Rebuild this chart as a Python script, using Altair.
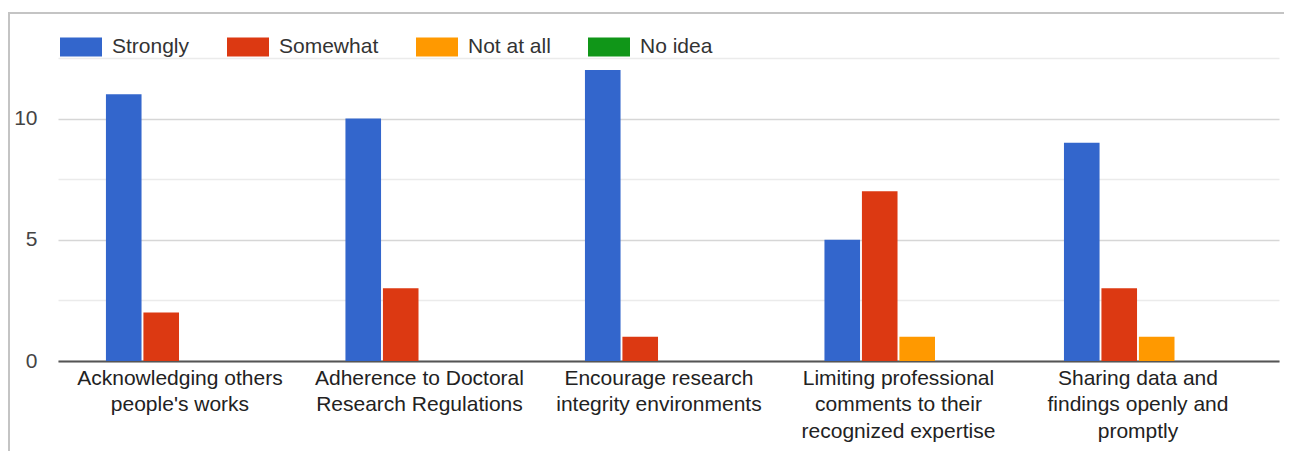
import altair as alt
import pandas as pd

categories = [
    ["Acknowledging others", "people's works"],
    ["Adherence to Doctoral", "Research Regulations"],
    ["Encourage research", "integrity environments"],
    ["Limiting professional", "comments to their", "recognized expertise"],
    ["Sharing data and", "findings openly and", "promptly"],
]
series = ["Strongly", "Somewhat", "Not at all", "No idea"]
colors = ["#3366cc", "#dc3912", "#ff9900", "#109618"]
strongly = [11, 10, 12, 5, 9]
somewhat = [2, 3, 1, 7, 3]
not_at_all = [0, 0, 0, 1, 1]
no_idea = [0, 0, 0, 0, 0]
y_ticks = [0, 2.5, 5, 7.5, 10, 12.5]

cat_names = ["\n".join(c) for c in categories]
rows = []
for i, name in enumerate(cat_names):
    for s, vals in zip(series, [strongly, somewhat, not_at_all, no_idea]):
        rows.append({"category": name, "series": s, "value": vals[i]})
df = pd.DataFrame(rows)

FONT = "Liberation Sans, Arial, sans-serif"

bars = alt.Chart(df).mark_bar().encode(
    x=alt.X(
        "category:N",
        sort=cat_names,
        title=None,
        scale=alt.Scale(paddingInner=0.382, paddingOuter=0.24, align=0.417),
        axis=alt.Axis(
            labelExpr="split(datum.label, '\\n')",
            labelAngle=0,
            labelFont=FONT,
            labelFontSize=21,
            labelColor="#222222",
            labelLineHeight=26.5,
            labelPadding=6,
            labelLimit=400,
            ticks=False,
            domainColor="#555555",
            domainWidth=2,
            grid=False,
        ),
    ),
    xOffset=alt.XOffset(
        "series:N",
        sort=series,
        scale=alt.Scale(paddingInner=0.05, paddingOuter=0),
    ),
    y=alt.Y(
        "value:Q",
        title=None,
        scale=alt.Scale(domain=[0, 12.5], nice=False),
        axis=alt.Axis(
            values=y_ticks,
            labelExpr="datum.value % 5 === 0 ? datum.label : ''",
            labelFont=FONT,
            labelFontSize=21,
            labelColor="#444444",
            labelPadding=21,
            ticks=False,
            domain=False,
            gridColor={"condition": {"test": "datum.value % 5 === 0", "value": "#d6d6d6"}, "value": "#ebebeb"},
            gridWidth=1.5,
        ),
    ),
    color=alt.Color(
        "series:N",
        sort=series,
        scale=alt.Scale(domain=series, range=colors),
        legend=alt.Legend(
            title=None,
            orient="none",
            legendX=2,
            legendY=-32,
            direction="horizontal",
            symbolType="M-1,-0.45L1,-0.45L1,0.45L-1,0.45Z",
            symbolSize=1764,
            symbolStrokeWidth=0,
            symbolOpacity=1,
            labelFont=FONT,
            labelFontSize=21,
            labelColor="#333333",
            labelOffset=10,
            columnPadding=37,
            gridAlign="each",
            labelLimit=300,
        ),
    ),
)

top_border = alt.Chart(df).mark_rule(color="#c4c4c4", strokeWidth=2).encode(
    x=alt.value(-50), x2=alt.value(1226), y=alt.value(-45)
)
left_border = alt.Chart(df).mark_rule(color="#c4c4c4", strokeWidth=2).encode(
    x=alt.value(-49), y=alt.value(-45), y2=alt.value(393)
)

chart = (
    alt.layer(top_border, left_border, bars)
    .properties(
        width=1221,
        height=303,
        autosize=alt.AutoSizeParams(type="none"),
        padding={"left": 50, "top": 50, "right": 5, "bottom": 90},
        background="white",
    )
    .configure_view(stroke=None)
)

chart.save("out.html", embed_options={"renderer": "svg", "actions": False})
